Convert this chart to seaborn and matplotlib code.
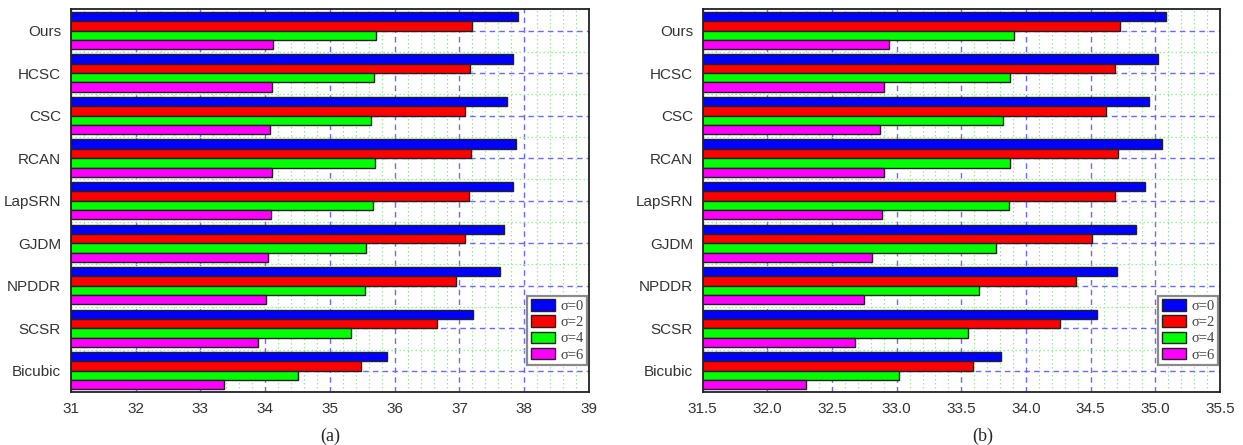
import matplotlib
matplotlib.use("Agg")
import matplotlib.pyplot as plt
from matplotlib.ticker import MultipleLocator
import pandas as pd
import seaborn as sns

# data
methods = ["Ours", "HCSC", "CSC", "RCAN", "LapSRN", "GJDM", "NPDDR", "SCSR", "Bicubic"]
sigmas = ["σ=0", "σ=2", "σ=4", "σ=6"]
bar_colors = ["#0000ff", "#ff0000", "#00ff00", "#ff00ff"]

# panel (a)
a_sigma0 = [37.90, 37.82, 37.73, 37.87, 37.82, 37.68, 37.63, 37.21, 35.88]
a_sigma2 = [37.20, 37.16, 37.09, 37.18, 37.15, 37.08, 36.95, 36.65, 35.48]
a_sigma4 = [35.71, 35.68, 35.64, 35.70, 35.67, 35.56, 35.54, 35.33, 34.51]
a_sigma6 = [34.12, 34.10, 34.07, 34.11, 34.09, 34.05, 34.02, 33.89, 33.37]

# panel (b)
b_sigma0 = [35.08, 35.02, 34.95, 35.05, 34.92, 34.85, 34.70, 34.55, 33.81]
b_sigma2 = [34.73, 34.69, 34.62, 34.71, 34.69, 34.51, 34.39, 34.26, 33.59]
b_sigma4 = [33.91, 33.88, 33.82, 33.88, 33.87, 33.77, 33.64, 33.55, 33.02]
b_sigma6 = [32.94, 32.90, 32.87, 32.90, 32.89, 32.81, 32.75, 32.68, 32.30]


def to_long(series_list):
    rows = []
    for sig, vals in zip(sigmas, series_list):
        for m, v in zip(methods, vals):
            rows.append({"method": m, "sigma": sig, "psnr": v})
    return pd.DataFrame(rows)


def draw_panel(ax, df, xlim, major, minor, fmt):
    sns.barplot(data=df, y="method", x="psnr", hue="sigma", orient="h",
                order=methods, hue_order=sigmas, palette=bar_colors,
                width=0.88, edgecolor="#222222", linewidth=1.0,
                saturation=1, ax=ax)
    ax.set_xlim(*xlim)
    ax.set_axisbelow(True)
    ax.xaxis.set_major_locator(MultipleLocator(major))
    ax.xaxis.set_minor_locator(MultipleLocator(minor))
    ax.set_yticks(range(len(methods)), minor=False)
    ax.set_yticks([i + 0.5 for i in range(-1, len(methods))], minor=True)
    ax.xaxis.set_major_formatter(plt.FormatStrFormatter(fmt))
    ax.grid(which="major", color="#6a6aff", linestyle=(0, (4, 3)), linewidth=1.0)
    ax.grid(which="minor", color="#9be89b", linestyle=(0, (1.2, 2)), linewidth=0.9)
    ax.tick_params(axis="x", which="major", direction="in", length=5,
                   width=1.2, colors="#111111", labelcolor="#333333",
                   labelsize=11, pad=7)
    ax.tick_params(axis="y", which="major", length=0, labelcolor="#333333",
                   labelsize=11, pad=7)
    ax.tick_params(which="minor", length=0)
    for sp in ax.spines.values():
        sp.set_visible(True)
        sp.set_color("#222222")
        sp.set_linewidth(1.3)
    ax.set_xlabel("")
    ax.set_ylabel("")
    ax.get_legend().remove()
    handles, labels = ax.get_legend_handles_labels()
    leg = ax.legend(handles, labels, loc="lower right",
                    bbox_to_anchor=(0.996, 0.07), borderaxespad=0,
                    prop={"family": "Liberation Serif", "size": 10.5},
                    handlelength=1.65, handleheight=0.85, handletextpad=0.35,
                    labelspacing=0.16, borderpad=0.25, fancybox=False,
                    framealpha=1, edgecolor="#8a8a8a")
    leg.get_frame().set_linewidth(1.6)
    for t in leg.get_texts():
        t.set_color("#444444")


sns.set_style("white")
plt.rcParams["font.family"] = ["Liberation Sans", "DejaVu Sans"]

fig = plt.figure(figsize=(12.43, 4.45), dpi=100)
ax_a = fig.add_axes([0.0569, 0.119, 0.417, 0.860])
ax_b = fig.add_axes([0.5653, 0.119, 0.4162, 0.860])

draw_panel(ax_a, to_long([a_sigma0, a_sigma2, a_sigma4, a_sigma6]),
           (31, 39), 1, 0.2, "%d")
draw_panel(ax_b, to_long([b_sigma0, b_sigma2, b_sigma4, b_sigma6]),
           (31.5, 35.5), 0.5, 0.1, "%.1f")

fig.text(330 / 1243, 1 - 436 / 445, "(a)", ha="center", va="center",
         family="Liberation Serif", fontsize=13)
fig.text(983 / 1243, 1 - 436 / 445, "(b)", ha="center", va="center",
         family="Liberation Serif", fontsize=13)

fig.savefig("out.png", dpi=100)
